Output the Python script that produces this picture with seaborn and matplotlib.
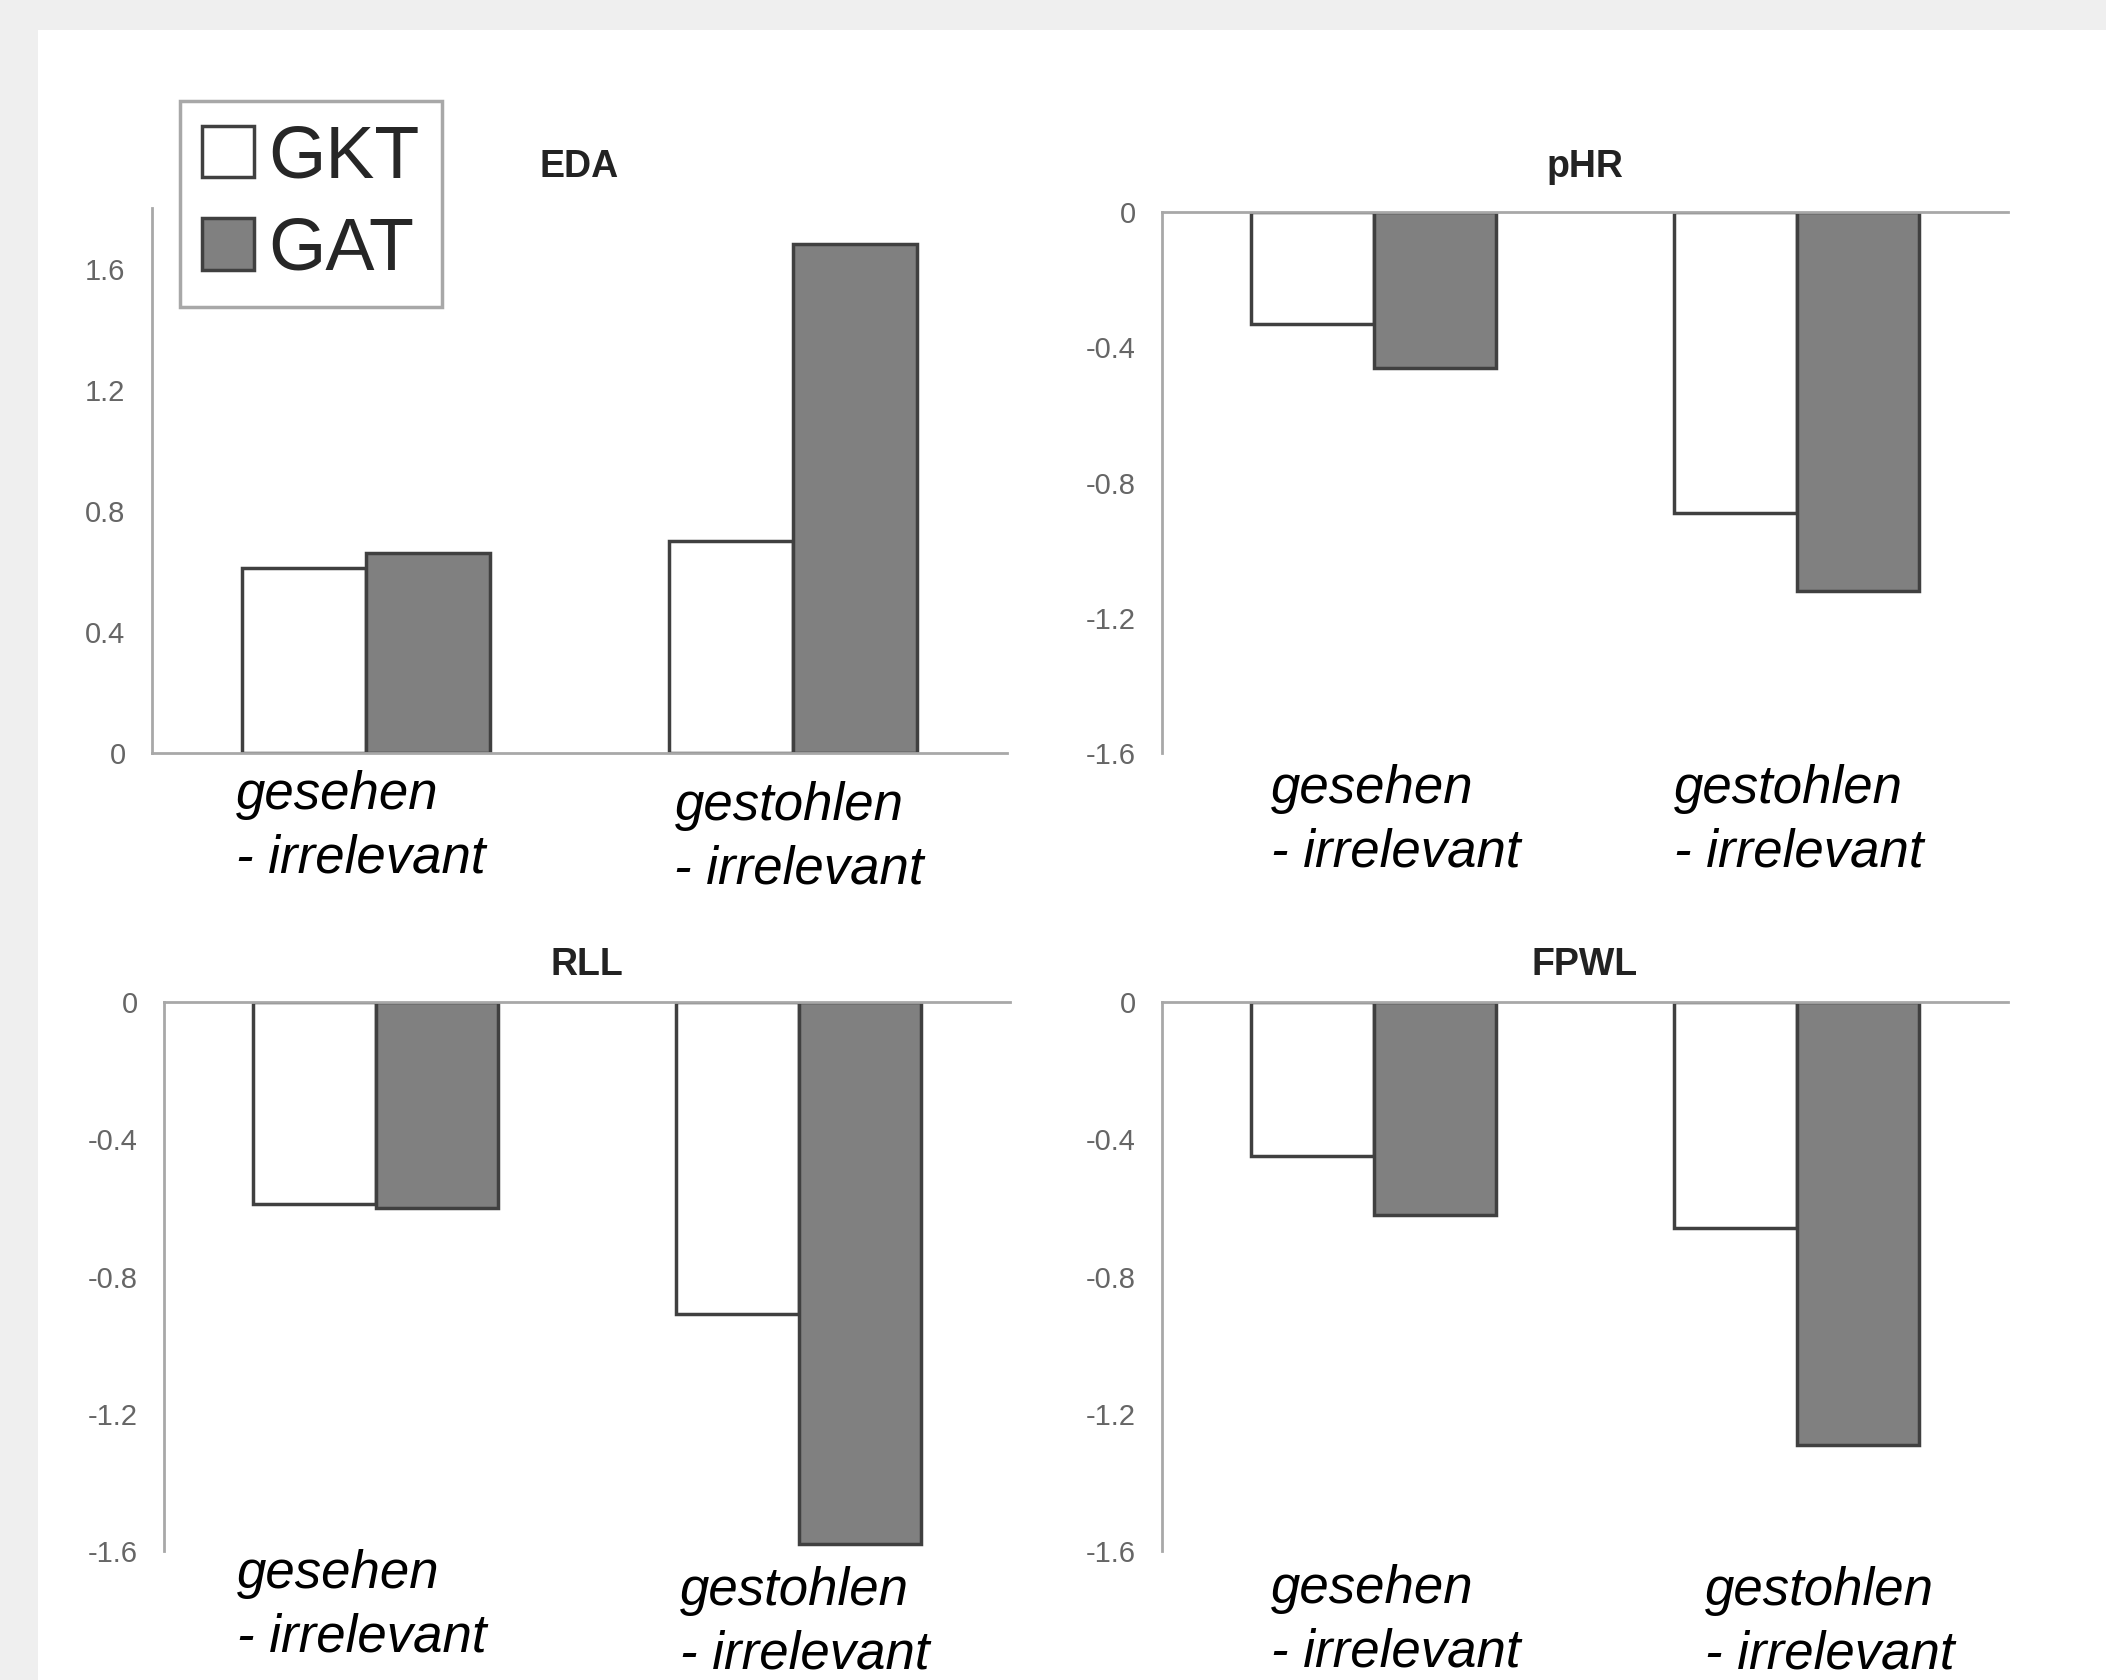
import pandas as pd
import numpy as np
import matplotlib
matplotlib.use("Agg")
import matplotlib.pyplot as plt
from matplotlib.patches import Patch, Rectangle
import seaborn as sns

# data
categories = ["gesehen\n- irrelevant", "gestohlen\n- irrelevant"]
conditions = ["GKT", "GAT"]

eda_gkt = [0.61, 0.70]
eda_gat = [0.66, 1.68]
phr_gkt = [-0.33, -0.89]
phr_gat = [-0.46, -1.12]
rll_gkt = [-0.59, -0.91]
rll_gat = [-0.60, -1.58]
fpwl_gkt = [-0.45, -0.66]
fpwl_gat = [-0.62, -1.29]

pos_ticks = [0, 0.4, 0.8, 1.2, 1.6]
pos_labels = ["0", "0.4", "0.8", "1.2", "1.6"]
neg_ticks = [0, -0.4, -0.8, -1.2, -1.6]
neg_labels = ["0", "-0.4", "-0.8", "-1.2", "-1.6"]

W, H = 2106, 1680
AXIS_GRAY = "#a8a8a8"
EDGE = "#404040"

sns.set_style("white")
plt.rcParams["font.family"] = ["Liberation Sans", "DejaVu Sans"]


def long_frame(gkt, gat):
    rows = []
    for cat, a, b in zip(categories, gkt, gat):
        rows.append({"category": cat, "test": "GKT", "value": a})
        rows.append({"category": cat, "test": "GAT", "value": b})
    return pd.DataFrame(rows)


fig = plt.figure(figsize=(W / 100, H / 100), dpi=100, facecolor="#efefef")
fig.add_artist(Rectangle((38 / W, 0), 1, 1 - 30 / H, transform=fig.transFigure,
                         facecolor="white", edgecolor="none", zorder=0))

# (title, gkt, gat, axes rect px [left, top, right, bottom], title y px, ylim, ticks, labels, label offsets px)
panels = [
    ("EDA", eda_gkt, eda_gat, (152, 208, 1007, 753), 167, (0, 1.8), pos_ticks, pos_labels,
     [(-5, 74), (6, 85)]),
    ("pHR", phr_gkt, phr_gat, (1162, 212, 2008, 753), 167, (-1.6, 0), neg_ticks, neg_labels,
     [(22, 68), (2, 68)]),
    ("RLL", rll_gkt, rll_gat, (164, 1002, 1010, 1551), 965, (-1.6, 0), neg_ticks, neg_labels,
     [(-14, 55), (6, 72)]),
    ("FPWL", fpwl_gkt, fpwl_gat, (1162, 1002, 2008, 1551), 965, (-1.6, 0), neg_ticks, neg_labels,
     [(22, 70), (33, 72)]),
]

palette = {"GKT": "white", "GAT": "#808080"}

for title, gkt, gat, (l, t, r, b), ty, ylim, ticks, tlabels, offs in panels:
    ax = fig.add_axes([l / W, 1 - b / H, (r - l) / W, (b - t) / H])
    ax.set_facecolor("none")
    df = long_frame(gkt, gat)
    sns.barplot(data=df, x="category", y="value", hue="test", hue_order=conditions,
                order=categories, palette=palette, width=0.58, errorbar=None,
                edgecolor=EDGE, linewidth=2.5, legend=False, ax=ax)
    ax.set_xlim(-0.5, 1.5)
    ax.set_ylim(*ylim)
    ax.set_xticks([-0.5, 0.5, 1.5])
    ax.set_xticklabels([])
    ax.set_yticks(ticks)
    ax.set_yticklabels(tlabels)
    ax.set_xlabel("")
    ax.set_ylabel("")
    for s in ["top", "right"]:
        ax.spines[s].set_visible(False)
    for s in ["left", "bottom"]:
        ax.spines[s].set_color(AXIS_GRAY)
        ax.spines[s].set_linewidth(2)
    ax.spines["bottom"].set_position(("data", 0))
    ax.tick_params(axis="x", direction="out", length=8, width=2, color=AXIS_GRAY)
    ax.tick_params(axis="y", direction="out", length=5, width=2, color=AXIS_GRAY,
                   labelsize=21, labelcolor="#666666", pad=14)

    # panel title centred over the axes
    fig.text((l + r) / 2 / W, 1 - ty / H, title, ha="center", va="center",
             fontsize=27, fontweight="bold", color="#222222")

    for i, (cat, (dx, dy)) in enumerate(zip(categories, offs)):
        ax.annotate(cat, xy=(i, 0), xycoords=("data", "axes fraction"),
                    xytext=(dx, -dy), textcoords="offset pixels",
                    ha="center", va="center", multialignment="left",
                    fontsize=38, style="italic", color="black", linespacing=1.34,
                    annotation_clip=False)

handles = [Patch(facecolor=palette[c], edgecolor=EDGE, linewidth=2.5) for c in conditions]
leg = fig.legend(handles, conditions, loc="upper left",
                 bbox_to_anchor=(180 / W, 1 - 101 / H), fontsize=53,
                 frameon=True, fancybox=False, edgecolor=AXIS_GRAY, framealpha=1,
                 handlelength=0.7, handleheight=0.7, handletextpad=0.2,
                 borderpad=0.3, labelspacing=0.32, borderaxespad=0)
leg.get_frame().set_linewidth(2.5)

fig.savefig("out.png", dpi=100, facecolor=fig.get_facecolor())
